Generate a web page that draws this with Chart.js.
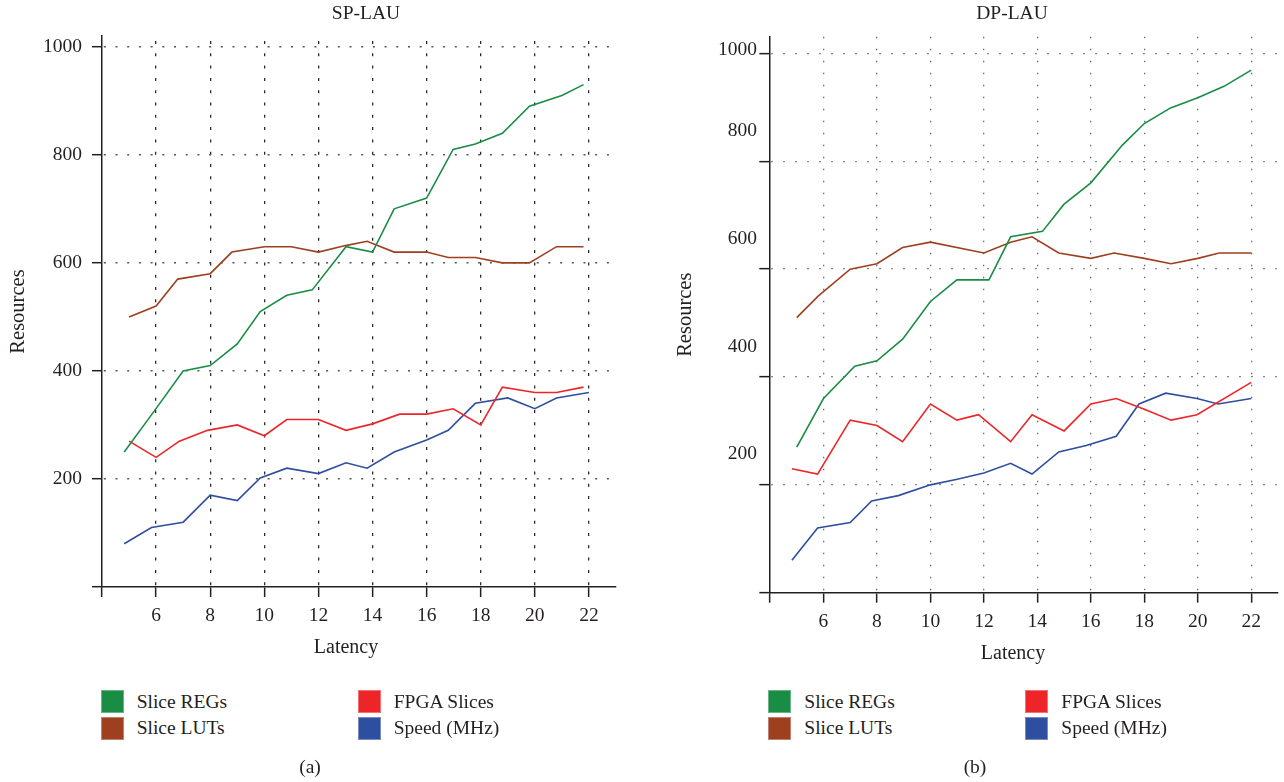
<!DOCTYPE html>
<html>
<head>
<meta charset="utf-8">
<script src="https://cdn.jsdelivr.net/npm/chart.js@4"></script>
<style>
html,body{margin:0;padding:0;background:#fff;}
#root{position:relative;width:1284px;height:782px;overflow:hidden;font-family:"Liberation Serif","Times New Roman",serif;color:#231f20;}
canvas{position:absolute;top:0;}
.t{position:absolute;transform:translate(-50%,-50%);white-space:nowrap;line-height:1;font-size:19px;}
.lg{position:absolute;display:flex;align-items:center;height:23px;font-size:19.5px;line-height:1;white-space:nowrap;}
.sw{width:23px;height:23px;margin-right:13px;box-sizing:border-box;border:1px solid rgba(255,255,255,0.35);}
</style>
</head>
<body>
<div id="root">
  <canvas id="c1" width="640" height="660" style="left:0;width:640px;height:660px;"></canvas>
  <canvas id="c2" width="644" height="670" style="left:640px;width:644px;height:670px;"></canvas>
</div>
<script>
// ---------- data ----------
const LATENCY_TICKS = [4, 6, 8, 10, 12, 14, 16, 18, 20, 22];
const LATENCY_LABELS = ['', '6', '8', '10', '12', '14', '16', '18', '20', '22'];
const RES_TICKS = [0, 200, 400, 600, 800, 1000];
const SP_RES_LABELS = ['', '200', '400', '600', '800', '1000'];
const DP_RES_LABEL_VALUES = [1007, 857, 656, 456, 257];
const DP_RES_LABELS = ['1000', '800', '600', '400', '200'];

const SERIES_NAMES = ['Slice REGs', 'Slice LUTs', 'FPGA Slices', 'Speed (MHz)'];
const SERIES_COLORS = ['#1a8d45', '#9e4020', '#ee2528', '#2e4f9f'];
const CHART_TITLES = ['SP-LAU', 'DP-LAU'];
const X_TITLE = 'Latency';
const Y_TITLE = 'Resources';
const CAPTIONS = ['(a)', '(b)'];

// SP-LAU
const SP_REGS_X = [4.82, 5.85, 7.0, 8.0, 9.0, 9.85, 10.83, 11.77, 13.02, 14.0, 14.8, 16.0, 16.98, 17.8, 18.8, 19.8, 21.0, 21.8];
const SP_REGS   = [250, 320, 400, 410, 450, 510, 540, 550, 630, 620, 700, 720, 810, 820, 840, 890, 910, 930];
const SP_LUTS_X = [5.0, 6.0, 6.8, 8.0, 8.8, 10.0, 11.0, 12.0, 13.0, 13.8, 14.8, 16.0, 16.8, 17.8, 18.8, 19.8, 20.8, 21.8];
const SP_LUTS   = [500, 520, 570, 580, 620, 630, 630, 620, 632, 640, 620, 620, 610, 610, 600, 600, 630, 630];
const SP_FPGA_X = [5.0, 6.0, 6.86, 7.9, 9.0, 10.0, 10.83, 12.0, 13.02, 14.0, 15.0, 16.0, 16.98, 18.0, 18.8, 20.0, 20.8, 21.8];
const SP_FPGA   = [270, 240, 270, 290, 300, 280, 310, 310, 290, 302, 320, 320, 330, 300, 370, 360, 360, 370];
const SP_SPEED_X = [4.82, 5.83, 7.0, 8.0, 9.0, 9.85, 10.83, 12.0, 13.02, 13.8, 14.8, 16.0, 16.8, 17.8, 19.0, 20.0, 20.8, 22.0];
const SP_SPEED   = [80, 110, 120, 170, 160, 202, 220, 210, 230, 220, 250, 272, 290, 340, 350, 330, 350, 360];

// DP-LAU
const DP_REGS_X = [5.0, 6.0, 7.17, 8.0, 8.96, 10.0, 10.99, 12.19, 13.0, 14.19, 14.99, 16.0, 17.18, 18.0, 18.98, 20.0, 20.98, 22.0];
const DP_REGS   = [270, 360, 420, 430, 470, 540, 580, 580, 660, 670, 720, 760, 830, 870, 899, 918, 939, 969];
const DP_LUTS_X = [5.0, 5.8, 7.0, 8.0, 8.96, 10.0, 12.0, 13.0, 13.8, 14.8, 16.0, 16.87, 18.0, 19.0, 20.0, 20.8, 22.0];
const DP_LUTS   = [510, 550, 600, 610, 640, 650, 630, 650, 660, 630, 620, 630, 620, 610, 620, 630, 630];
const DP_FPGA_X = [4.82, 5.78, 7.0, 8.0, 8.96, 10.0, 10.99, 11.8, 13.0, 13.8, 15.0, 16.0, 16.95, 18.0, 19.0, 19.97, 22.0];
const DP_FPGA   = [230, 220, 320, 310, 280, 350, 320, 330, 280, 330, 300, 350, 360, 340, 320, 330, 390];
const DP_SPEED_X = [4.82, 5.78, 7.0, 7.8, 8.8, 10.0, 10.96, 12.0, 13.0, 13.8, 14.8, 15.83, 16.95, 17.8, 18.8, 19.97, 20.76, 22.0];
const DP_SPEED   = [60, 120, 130, 170, 180, 200, 210, 222, 240, 220, 261, 273, 290, 350, 370, 360, 350, 360];

// ---------- helpers ----------
const TEXT = '#231f20';
const FAMILY = "'Liberation Serif', 'Times New Roman', serif";
const FONT = {family: FAMILY, size: 19.5};
const TITLE_FONT = {family: FAMILY, size: 20.5};
const TRANSPARENT = 'rgba(0,0,0,0)';

function pts(xs, ys) { return xs.map((x, i) => ({x: x, y: ys[i]})); }
function lineDs(idx, xs, ys) {
  return {
    label: SERIES_NAMES[idx], data: pts(xs, ys),
    borderColor: SERIES_COLORS[idx], backgroundColor: SERIES_COLORS[idx],
    borderWidth: 1.6, pointRadius: 0, pointHoverRadius: 0, tension: 0, fill: false
  };
}

function xScale(height, gridColor, dash, dashOffset) {
  return {
    type: 'linear', min: 4, max: 23,
    afterBuildTicks: ax => { ax.ticks = LATENCY_TICKS.map(v => ({value: v})); },
    afterFit: ax => { ax.height = height; },
    ticks: {autoSkip: false, maxRotation: 0, padding: 7, font: FONT, color: TEXT,
            callback: v => LATENCY_LABELS[LATENCY_TICKS.indexOf(v)]},
    grid: {color: c => (c.tick && c.tick.value === 4) ? TRANSPARENT : gridColor,
           lineWidth: 1.3, tickLength: 10, tickColor: TEXT, tickWidth: 1.5, tickBorderDash: []},
    border: {display: true, color: TEXT, width: 1.5, dash: dash, dashOffset: dashOffset}
  };
}

function baseOptions(padding, scales) {
  return {
    responsive: false, animation: false, devicePixelRatio: 1, events: [],
    layout: {padding: padding, autoPadding: false},
    plugins: {legend: {display: false}, tooltip: {enabled: false}, title: {display: false}},
    scales: scales
  };
}

// ---------- chart (a) SP-LAU ----------
new Chart(document.getElementById('c1'), {
  type: 'line',
  data: {datasets: [
    lineDs(0, SP_REGS_X, SP_REGS),
    lineDs(1, SP_LUTS_X, SP_LUTS),
    lineDs(2, SP_FPGA_X, SP_FPGA),
    lineDs(3, SP_SPEED_X, SP_SPEED)
  ]},
  options: baseOptions({left: 0, right: 24, top: 36, bottom: 0}, {
    x: xScale(73, '#2a2a2a', [3, 9.3], 7.3),
    y: {
      type: 'linear', min: 0, max: 1020,
      afterBuildTicks: ax => { ax.ticks = RES_TICKS.map(v => ({value: v})); },
      afterFit: ax => { ax.width = 102; },
      ticks: {padding: 10, font: FONT, color: TEXT,
              callback: v => SP_RES_LABELS[RES_TICKS.indexOf(v)]},
      grid: {color: c => (c.tick && c.tick.value === 0) ? TRANSPARENT : '#555',
             lineWidth: 1.4, tickLength: 10, tickColor: TEXT, tickWidth: 1.5, tickBorderDash: []},
      border: {display: true, color: TEXT, width: 1.5, dash: [2, 9.7], dashOffset: 10.4},
      title: {display: true, text: Y_TITLE, font: TITLE_FONT, color: TEXT, padding: {top: 6, bottom: 0}}
    }
  })
});

// ---------- chart (b) DP-LAU ----------
new Chart(document.getElementById('c2'), {
  type: 'line',
  data: {datasets: [
    lineDs(0, DP_REGS_X, DP_REGS),
    lineDs(1, DP_LUTS_X, DP_LUTS),
    lineDs(2, DP_FPGA_X, DP_FPGA),
    lineDs(3, DP_SPEED_X, DP_SPEED)
  ]},
  options: baseOptions({left: 0, right: 6, top: 36.7, bottom: 0}, {
    x: xScale(77.3, '#6a6a6a', [1.6, 10.4], 0),
    y: {
      type: 'linear', min: 0, max: 1031, weight: 0,
      afterBuildTicks: ax => { ax.ticks = RES_TICKS.map(v => ({value: v})); },
      afterFit: ax => { ax.width = 11; },
      ticks: {display: false},
      grid: {color: c => (c.tick && c.tick.value === 0) ? TRANSPARENT : '#6a6a6a',
             lineWidth: 1.3, tickLength: 10.7, tickColor: TEXT, tickWidth: 1.5, tickBorderDash: []},
      border: {display: true, color: TEXT, width: 1.5, dash: [1.6, 10.4], dashOffset: 11.3}
    },
    y2: {
      type: 'linear', position: 'left', min: 0, max: 1031, weight: 1,
      afterBuildTicks: ax => { ax.ticks = DP_RES_LABEL_VALUES.map(v => ({value: v})); },
      afterFit: ax => { ax.width = 119; },
      ticks: {padding: 2, font: FONT, color: TEXT,
              callback: v => DP_RES_LABELS[DP_RES_LABEL_VALUES.indexOf(v)]},
      grid: {display: false, drawTicks: false, drawOnChartArea: false},
      border: {display: false},
      title: {display: true, text: Y_TITLE, font: TITLE_FONT, color: TEXT, padding: {top: 33, bottom: 0}}
    }
  })
});

// ---------- text overlays: titles, axis titles, legends, captions ----------
const root = document.getElementById('root');
function addText(txt, cx, cy, size) {
  const d = document.createElement('div');
  d.className = 't';
  d.textContent = txt;
  d.style.left = cx + 'px';
  d.style.top = cy + 'px';
  if (size) d.style.fontSize = size + 'px';
  root.appendChild(d);
}
addText(CHART_TITLES[0], 366, 13, 19.5);
addText(CHART_TITLES[1], 1012, 13, 19.5);
addText(X_TITLE, 346, 646, 20);
addText(X_TITLE, 1013, 652, 20);
addText(CAPTIONS[0], 310, 767, 19.5);
addText(CAPTIONS[1], 975, 767, 19.5);

function addLegend(col1x, col2x) {
  const order = [[0, col1x, 690], [1, col1x, 716.7], [2, col2x, 690], [3, col2x, 716.7]];
  order.forEach(([i, x, y]) => {
    const d = document.createElement('div');
    d.className = 'lg';
    d.style.left = x + 'px';
    d.style.top = y + 'px';
    const sw = document.createElement('span');
    sw.className = 'sw';
    sw.style.background = SERIES_COLORS[i];
    const tx = document.createElement('span');
    tx.textContent = SERIES_NAMES[i];
    d.appendChild(sw); d.appendChild(tx);
    root.appendChild(d);
  });
}
addLegend(100.7, 357.7);
addLegend(768.3, 1025.3);
</script>
</body>
</html>
